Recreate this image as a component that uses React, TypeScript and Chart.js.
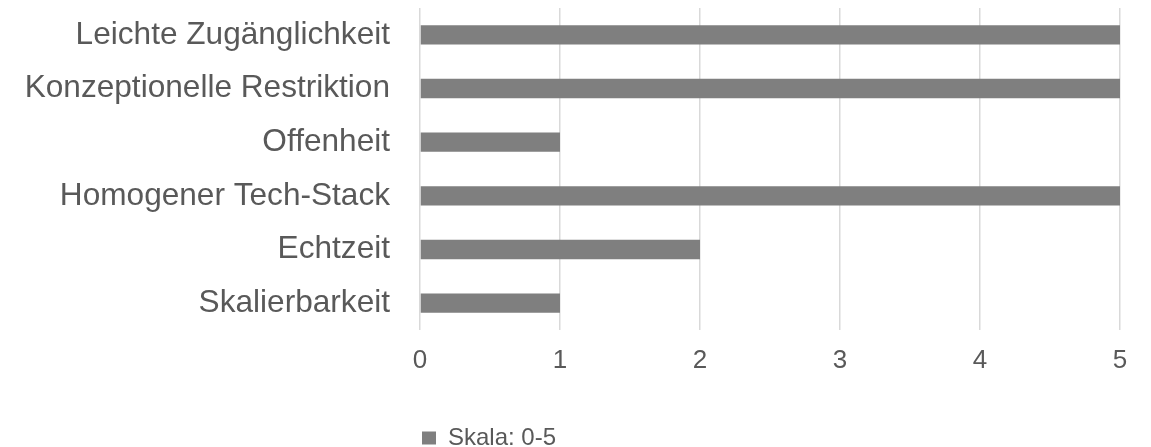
import React, { useEffect, useRef } from "react";
import { Chart, registerables } from "chart.js";

Chart.register(...registerables);

const categories = [
  "Leichte Zugänglichkeit",
  "Konzeptionelle Restriktion",
  "Offenheit",
  "Homogener Tech-Stack",
  "Echtzeit",
  "Skalierbarkeit",
];
const seriesName = "Skala: 0-5";
const values = [5, 5, 1, 5, 2, 1];
const xMin = 0;
const xMax = 5;

const FONT = "'Liberation Sans', Arial, Helvetica, sans-serif";
const TEXT = "#595959";

const legendMover = {
  id: "legendMover",
  afterLayout(chart: any) {
    const lg = chart.legend;
    if (!lg) return;
    const pad = lg.options.labels.padding;
    const w = lg.right - lg.left;
    const h = lg.bottom - lg.top;
    lg.left = 422 - pad;
    lg.right = lg.left + w;
    lg.top = 426 - pad;
    lg.bottom = lg.top + h;
  },
};

export default function App() {
  const ref = useRef<HTMLCanvasElement | null>(null);
  useEffect(() => {
    if (!ref.current) return;
    const chart = new Chart(ref.current, {
      type: "bar",
      data: {
        labels: categories,
        datasets: [
          {
            label: seriesName,
            data: values,
            backgroundColor: "#7f7f7f",
            borderWidth: 0,
            categoryPercentage: 1,
            barPercentage: 0.36,
          },
        ],
      },
      options: {
        indexAxis: "y",
        responsive: false,
        animation: false,
        layout: { padding: { top: 8, right: 31, left: 0, bottom: 0 } },
        plugins: {
          tooltip: { enabled: false },
          legend: {
            position: "bottom",
            align: "start",
            labels: {
              color: TEXT,
              font: { family: FONT, size: 24 },
              boxWidth: 14,
              boxHeight: 13,
              padding: 10,
            },
          },
        },
        scales: {
          x: {
            min: xMin,
            max: xMax,
            ticks: {
              stepSize: 1,
              color: TEXT,
              font: { family: FONT, size: 26 },
              padding: 15,
            },
            grid: { color: "#d9d9d9", lineWidth: 1.5, drawTicks: false },
            border: { display: false },
            afterFit: (s: any) => {
              s.height = 73;
              s.paddingLeft = 0;
              s.paddingRight = 0;
            },
          },
          y: {
            ticks: {
              color: TEXT,
              font: { family: FONT, size: 31.6 },
              padding: 30,
            },
            grid: { display: false, drawTicks: false },
            border: { display: false },
            afterFit: (s: any) => {
              s.width = 420;
              s.paddingTop = 0;
              s.paddingBottom = 0;
            },
          },
        },
      },
      plugins: [legendMover],
    } as any);
    return () => chart.destroy();
  }, []);
  return (
    <div style={{ position: "fixed", left: 0, top: 0, width: 1151, height: 447, background: "#fff" }}>
      <canvas ref={ref} width={1151} height={447} style={{ display: "block" }} />
    </div>
  );
}
